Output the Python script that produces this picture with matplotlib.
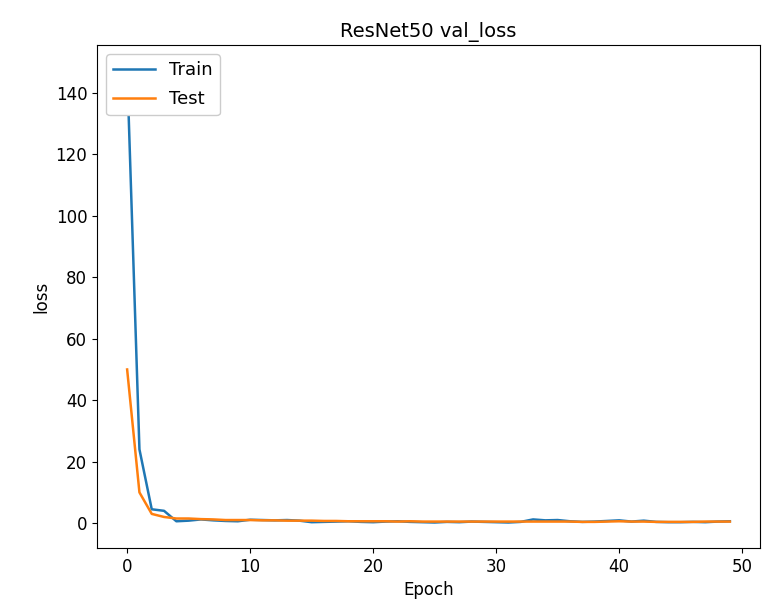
import matplotlib
matplotlib.use("Agg")
import matplotlib.pyplot as plt

epochs = list(range(50))
train_loss = [148.0, 24.0, 4.5, 4.0, 0.6, 0.8, 1.2, 0.9, 0.7, 0.6,
              1.1, 1.0, 0.9, 1.0, 0.8, 0.3, 0.4, 0.5, 0.6, 0.4,
              0.3, 0.5, 0.6, 0.4, 0.3, 0.2, 0.4, 0.3, 0.5, 0.4,
              0.3, 0.2, 0.4, 1.2, 0.9, 1.0, 0.6, 0.4, 0.5, 0.7,
              0.9, 0.5, 0.8, 0.4, 0.3, 0.3, 0.4, 0.3, 0.5, 0.6]
test_loss = [50.0, 10.0, 3.0, 2.0, 1.5, 1.5, 1.3, 1.2, 1.0, 1.0,
             1.0, 0.9, 0.9, 0.8, 0.8, 0.8, 0.7, 0.7, 0.6, 0.6,
             0.6, 0.6, 0.5, 0.6, 0.5, 0.5, 0.5, 0.5, 0.5, 0.5,
             0.5, 0.5, 0.5, 0.5, 0.5, 0.5, 0.5, 0.4, 0.4, 0.5,
             0.6, 0.5, 0.5, 0.4, 0.4, 0.4, 0.4, 0.5, 0.5, 0.5]

fig = plt.figure(figsize=(7.64, 6.07), dpi=100)
ax = fig.add_axes([97/764, 1 - 548/607, (760 - 97)/764, (548 - 45)/607])
ax.plot(epochs, train_loss, label="Train", color="#1f77b4", linewidth=1.8)
ax.plot(epochs, test_loss, label="Test", color="#ff7f0e", linewidth=1.8)
ax.set_ylim(-8.1, 155.6)
ax.set_title("ResNet50 val_loss", fontsize=14)
ax.set_xlabel("Epoch", fontsize=12)
ax.set_ylabel("loss", fontsize=12)
ax.tick_params(labelsize=12)
ax.legend(loc="upper left", fontsize=13, framealpha=1.0, handlelength=2.3,
          labelspacing=0.6)
fig.savefig("out.png", dpi=100)
